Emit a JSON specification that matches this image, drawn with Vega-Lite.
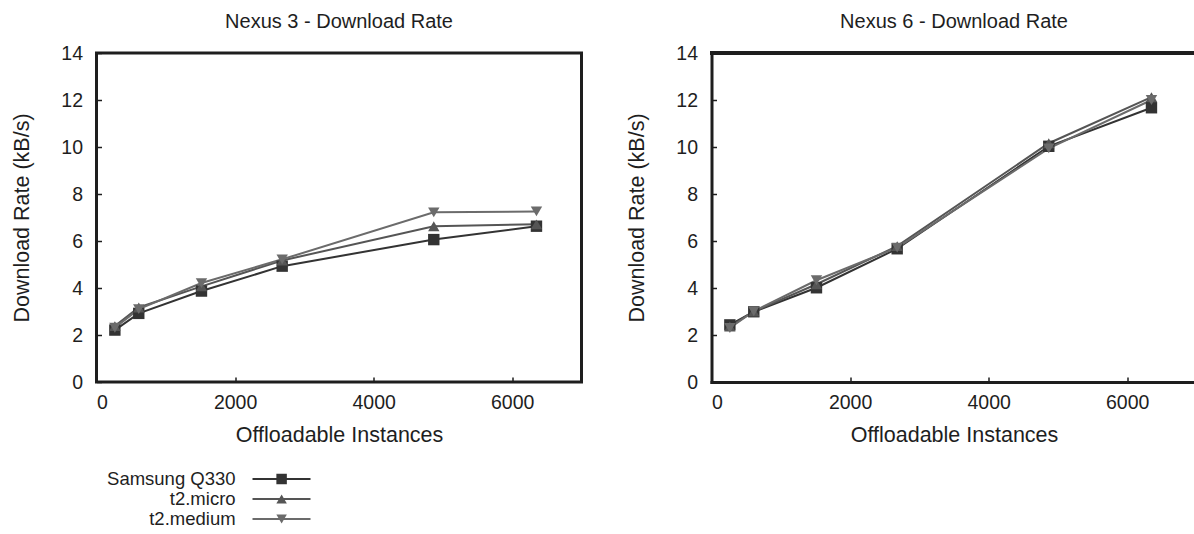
{
  "$schema": "https://vega.github.io/schema/vega-lite/v6.json",
  "padding": {"left": 9.5, "top": 10, "right": 0, "bottom": 0},
  "config": {
    "font": "Liberation Sans",
    "view": {"stroke": "#1e1e1e", "strokeWidth": 3},
    "axis": {
      "grid": false,
      "domain": false,
      "tickColor": "#1e1e1e",
      "tickSize": -5,
      "tickWidth": 1.5,
      "labelFont": "Liberation Sans",
      "labelFontSize": 19.5,
      "labelColor": "#1e1e1e",
      "titleFont": "Liberation Sans",
      "titleFontSize": 21.5,
      "titleFontWeight": "normal",
      "titleColor": "#1e1e1e"
    },
    "axisX": {"labelPadding": 16, "titlePadding": 13},
    "axisY": {"labelPadding": 19, "titlePadding": 27},
    "title": {"font": "Liberation Sans", "fontSize": 20, "fontWeight": "normal", "color": "#1e1e1e", "offset": 11}
  },
  "datasets": {
    "rates": [
      {"device": "Nexus 3", "series": "Samsung Q330", "instances": 265, "rate": 2.21},
      {"device": "Nexus 3", "series": "Samsung Q330", "instances": 610, "rate": 2.92},
      {"device": "Nexus 3", "series": "Samsung Q330", "instances": 1515, "rate": 3.87},
      {"device": "Nexus 3", "series": "Samsung Q330", "instances": 2680, "rate": 4.93},
      {"device": "Nexus 3", "series": "Samsung Q330", "instances": 4868, "rate": 6.06},
      {"device": "Nexus 3", "series": "Samsung Q330", "instances": 6350, "rate": 6.63},
      {"device": "Nexus 3", "series": "t2.micro", "instances": 265, "rate": 2.38},
      {"device": "Nexus 3", "series": "t2.micro", "instances": 610, "rate": 3.17},
      {"device": "Nexus 3", "series": "t2.micro", "instances": 1515, "rate": 4.07},
      {"device": "Nexus 3", "series": "t2.micro", "instances": 2680, "rate": 5.17},
      {"device": "Nexus 3", "series": "t2.micro", "instances": 4868, "rate": 6.63},
      {"device": "Nexus 3", "series": "t2.micro", "instances": 6350, "rate": 6.71},
      {"device": "Nexus 3", "series": "t2.medium", "instances": 265, "rate": 2.31},
      {"device": "Nexus 3", "series": "t2.medium", "instances": 610, "rate": 3.1},
      {"device": "Nexus 3", "series": "t2.medium", "instances": 1515, "rate": 4.21},
      {"device": "Nexus 3", "series": "t2.medium", "instances": 2680, "rate": 5.22},
      {"device": "Nexus 3", "series": "t2.medium", "instances": 4868, "rate": 7.22},
      {"device": "Nexus 3", "series": "t2.medium", "instances": 6350, "rate": 7.26},
      {"device": "Nexus 6", "series": "Samsung Q330", "instances": 265, "rate": 2.43},
      {"device": "Nexus 6", "series": "Samsung Q330", "instances": 610, "rate": 2.99},
      {"device": "Nexus 6", "series": "Samsung Q330", "instances": 1515, "rate": 4.01},
      {"device": "Nexus 6", "series": "Samsung Q330", "instances": 2680, "rate": 5.67},
      {"device": "Nexus 6", "series": "Samsung Q330", "instances": 4868, "rate": 10.03},
      {"device": "Nexus 6", "series": "Samsung Q330", "instances": 6350, "rate": 11.67},
      {"device": "Nexus 6", "series": "t2.micro", "instances": 265, "rate": 2.36},
      {"device": "Nexus 6", "series": "t2.micro", "instances": 610, "rate": 3.0},
      {"device": "Nexus 6", "series": "t2.micro", "instances": 1515, "rate": 4.16},
      {"device": "Nexus 6", "series": "t2.micro", "instances": 2680, "rate": 5.78},
      {"device": "Nexus 6", "series": "t2.micro", "instances": 4868, "rate": 10.16},
      {"device": "Nexus 6", "series": "t2.micro", "instances": 6350, "rate": 12.12},
      {"device": "Nexus 6", "series": "t2.medium", "instances": 265, "rate": 2.3},
      {"device": "Nexus 6", "series": "t2.medium", "instances": 610, "rate": 3.01},
      {"device": "Nexus 6", "series": "t2.medium", "instances": 1515, "rate": 4.33},
      {"device": "Nexus 6", "series": "t2.medium", "instances": 2680, "rate": 5.72},
      {"device": "Nexus 6", "series": "t2.medium", "instances": 4868, "rate": 9.94},
      {"device": "Nexus 6", "series": "t2.medium", "instances": 6350, "rate": 12.0}
    ],
    "legendItems": [
      {"series": "Samsung Q330"},
      {"series": "t2.micro"},
      {"series": "t2.medium"}
    ]
  },
  "columns": 2,
  "bounds": "flush",
  "spacing": {"row": 87, "column": 130},
  "concat": [
    {
      "width": 485,
      "height": 329,
      "title": "Nexus 3 - Download Rate",
      "data": {"name": "rates"},
      "transform": [{"filter": "datum.device === 'Nexus 3'"}],
      "encoding": {
        "x": {"field": "instances", "type": "quantitative", "title": "Offloadable Instances", "scale": {"domain": [0, 7000], "nice": false}, "axis": {"values": [0, 2000, 4000, 6000], "format": "d"}},
        "y": {"field": "rate", "type": "quantitative", "title": "Download Rate (kB/s)", "scale": {"domain": [0, 14], "nice": false}, "axis": {"values": [0, 2, 4, 6, 8, 10, 12, 14]}},
        "color": {"field": "series", "type": "nominal", "legend": null, "scale": {"domain": ["Samsung Q330", "t2.micro", "t2.medium"], "range": ["#333333", "#555555", "#6b6b6b"]}}
      },
      "layer": [
        {"mark": {"type": "line", "strokeWidth": 2}},
        {"mark": {"type": "point", "filled": true, "opacity": 1, "size": 130}, "encoding": {"shape": {"field": "series", "type": "nominal", "legend": null, "scale": {"domain": ["Samsung Q330", "t2.micro", "t2.medium"], "range": ["square", "triangle-up", "triangle-down"]}}}}
      ]
    },
    {
      "width": 485,
      "height": 329,
      "view": {"stroke": null},
      "title": "Nexus 6 - Download Rate",
      "data": {"name": "rates"},
      "transform": [{"filter": "datum.device === 'Nexus 6'"}],
      "layer": [
        {"mark": {"type": "rule", "strokeWidth": 3, "strokeCap": "square"}, "encoding": {"y": {"datum": 14, "type": "quantitative"}, "color": {"value": "#1e1e1e"}}},
        {
          "mark": {"type": "line", "strokeWidth": 2},
          "encoding": {
            "x": {"field": "instances", "type": "quantitative", "title": "Offloadable Instances", "scale": {"domain": [0, 7000], "nice": false}, "axis": {"values": [0, 2000, 4000, 6000], "format": "d", "domain": true, "domainWidth": 3, "domainColor": "#1e1e1e", "domainCap": "square"}},
            "y": {"field": "rate", "type": "quantitative", "title": "Download Rate (kB/s)", "scale": {"domain": [0, 14], "nice": false}, "axis": {"values": [0, 2, 4, 6, 8, 10, 12, 14], "domain": true, "domainWidth": 3, "domainColor": "#1e1e1e", "domainCap": "square"}},
            "color": {"field": "series", "type": "nominal", "legend": null, "scale": {"domain": ["Samsung Q330", "t2.micro", "t2.medium"], "range": ["#333333", "#555555", "#6b6b6b"]}}
          }
        },
        {
          "mark": {"type": "point", "filled": true, "opacity": 1, "size": 130},
          "encoding": {
            "x": {"field": "instances", "type": "quantitative"},
            "y": {"field": "rate", "type": "quantitative"},
            "color": {"field": "series", "type": "nominal", "legend": null},
            "shape": {"field": "series", "type": "nominal", "legend": null, "scale": {"domain": ["Samsung Q330", "t2.micro", "t2.medium"], "range": ["square", "triangle-up", "triangle-down"]}}
          }
        }
      ]
    },
    {
      "width": 214,
      "height": 60,
      "view": {"stroke": null},
      "data": {"name": "legendItems"},
      "encoding": {
        "y": {"field": "series", "type": "nominal", "axis": null, "sort": ["Samsung Q330", "t2.micro", "t2.medium"], "scale": {"type": "point", "padding": 0.5}},
        "color": {"field": "series", "type": "nominal", "legend": null, "scale": {"domain": ["Samsung Q330", "t2.micro", "t2.medium"], "range": ["#333333", "#555555", "#6b6b6b"]}}
      },
      "layer": [
        {"mark": {"type": "rule", "strokeWidth": 2}, "encoding": {"x": {"datum": 0.729, "type": "quantitative", "scale": {"domain": [0, 1], "nice": false}, "axis": null}, "x2": {"datum": 1}}},
        {"mark": {"type": "point", "filled": true, "opacity": 1, "size": 110}, "encoding": {"x": {"datum": 0.865, "type": "quantitative"}, "shape": {"field": "series", "type": "nominal", "legend": null, "scale": {"domain": ["Samsung Q330", "t2.micro", "t2.medium"], "range": ["square", "triangle-up", "triangle-down"]}}}},
        {"mark": {"type": "text", "align": "right", "baseline": "middle", "fontSize": 18.5, "font": "Liberation Sans", "color": "#1e1e1e"}, "encoding": {"x": {"datum": 0.65, "type": "quantitative"}, "text": {"field": "series"}, "color": {"value": "#1e1e1e"}}}
      ]
    }
  ]
}
